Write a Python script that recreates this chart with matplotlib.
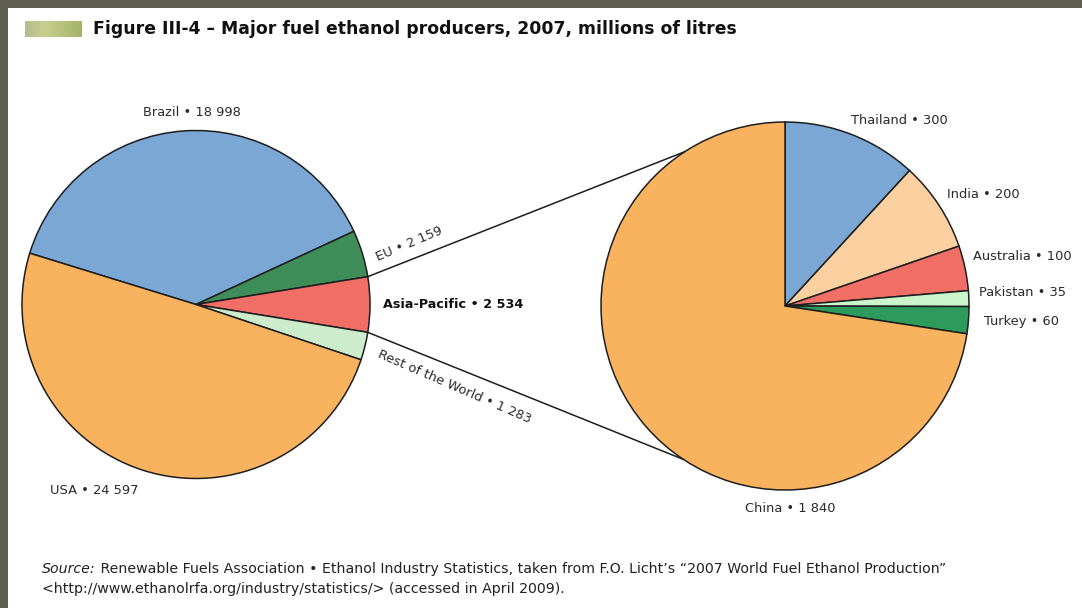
import numpy as np
import matplotlib
matplotlib.use("Agg")
import matplotlib.pyplot as plt
from matplotlib.patches import Rectangle

W, H = 1082, 608

# world production, millions of litres
world_names = ["Brazil", "EU", "Asia-Pacific", "Rest of the World", "USA"]
world_values = [18998, 2159, 2534, 1283, 24597]
world_colors = ["#7ba7d5", "#3f8d58", "#f26f68", "#cdeccc", "#f9b25e"]

# Asia-Pacific breakdown
asia_names = ["Thailand", "India", "Australia", "Pakistan", "Turkey", "China"]
asia_values = [300, 200, 100, 35, 60, 1840]
asia_colors = ["#7ba7d5", "#fdd0a2", "#f26f68", "#cdf5cc", "#2e9a5c", "#f9b25e"]

FONT = ["DejaVu Sans"]
LABEL = "#2a2a2a"


def Y(y):
    # work in image-style coordinates (y measured from the top)
    return H - y


def label(name, value):
    s = f"{value:,}".replace(",", " ")
    return f"{name} \u2022 {s}"


fig = plt.figure(figsize=(W / 100, H / 100), dpi=100, facecolor="#5e5f51")
ax = fig.add_axes([0, 0, 1, 1])

# white page inside the dark frame
ax.add_patch(Rectangle((8, 0), W - 8, H - 8, facecolor="white", edgecolor="none", zorder=0))

# main pie: the split slice (Asia-Pacific) is centred on the right-hand horizontal
total = sum(world_values)
deg = [v / total * 360 for v in world_values]
start = deg[2] / 2 + deg[1] + deg[0]
lc, lr = (196, Y(304.5)), 174
ax.pie(world_values, colors=world_colors, startangle=start, counterclock=False,
       center=lc, radius=lr,
       wedgeprops=dict(edgecolor="#1e1e1e", linewidth=1.1))

# secondary pie
rc, rr = (785, Y(306)), 184
ax.pie(asia_values, colors=asia_colors, startangle=90, counterclock=False,
       center=rc, radius=rr,
       wedgeprops=dict(edgecolor="#1e1e1e", linewidth=1.1))

# connector lines from the edges of the split slice to the secondary pie
half = np.radians(deg[2] / 2)
for a_left, a_right in [(half, np.radians(123)), (-half, np.radians(236.5))]:
    x0 = lc[0] + lr * np.cos(a_left)
    y0 = lc[1] + lr * np.sin(a_left)
    x1 = rc[0] + rr * np.cos(a_right)
    y1 = rc[1] + rr * np.sin(a_right)
    ax.plot([x0, x1], [y0, y1], color="#1e1e1e", lw=1.1, zorder=3,
            solid_capstyle="round")

fs = 9.4
kw = dict(family=FONT, fontsize=fs, color=LABEL, zorder=5)
ax.text(192, Y(113), label(world_names[0], world_values[0]), ha="center", va="center", **kw)
ax.text(409, Y(244), label(world_names[1], world_values[1]), ha="center", va="center",
        rotation=23, rotation_mode="anchor", **kw)
ax.text(383, Y(305), label(world_names[2], world_values[2]), ha="left", va="center",
        family=FONT, fontsize=9.2, color="#111111", fontweight="bold", zorder=5)
ax.text(454, Y(387), label(world_names[3], world_values[3]), ha="center", va="center",
        rotation=-23.5, rotation_mode="anchor", **kw)
ax.text(50, Y(491), label(world_names[4], world_values[4]), ha="left", va="center", **kw)

asia_pos = [(851, 121, "left"), (947, 194, "left"), (973, 256, "left"),
            (979, 293, "left"), (984, 322, "left"), (790, 508, "center")]
for (x, y, ha), n, v in zip(asia_pos, asia_names, asia_values):
    ax.text(x, Y(y), label(n, v), ha=ha, va="center", **kw)

# title with its gradient marker
grad = np.linspace(0, 1, 64)
cmap = matplotlib.colors.LinearSegmentedColormap.from_list(
    "marker", ["#b4bb92", "#c7cf8e", "#b7c27c", "#a5b46c"])
ax.imshow(grad[np.newaxis, :], cmap=cmap, aspect="auto",
          extent=(25, 82, Y(37), Y(21)), zorder=2)
ax.text(93, Y(29), "Figure III-4 \u2013 Major fuel ethanol producers, 2007, millions of litres",
        ha="left", va="center", family=FONT, fontsize=12.4, fontweight="bold",
        color="#111111", zorder=5)

# source note
src_kw = dict(family=FONT, fontsize=10.2, color="#222222", va="center", zorder=5)
t = ax.text(42, Y(569), "Source:", ha="left", style="italic", **src_kw)
ax.annotate(" Renewable Fuels Association \u2022 Ethanol Industry Statistics, taken from "
            "F.O. Licht\u2019s \u201c2007 World Fuel Ethanol Production\u201d",
            xycoords=t, xy=(1, 0.5), ha="left", **src_kw)
ax.text(42, Y(589), "<http://www.ethanolrfa.org/industry/statistics/> (accessed in April 2009).",
        ha="left", **src_kw)

ax.set_xlim(0, W)
ax.set_ylim(0, H)
ax.set_aspect("auto")
ax.axis("off")

fig.savefig("out.png", dpi=100, facecolor=fig.get_facecolor())
